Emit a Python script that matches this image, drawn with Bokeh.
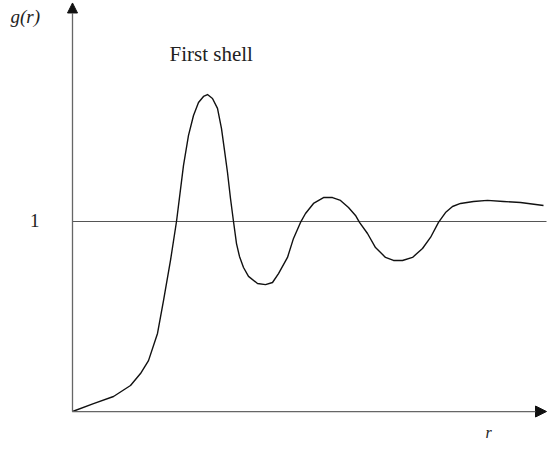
from bokeh.plotting import figure
from bokeh.models import Range1d, Arrow, NormalHead, ColumnDataSource
from bokeh.core.properties import value
from bokeh.embed import file_html
from bokeh.resources import INLINE

# g(r) curve
r_vals = [0.00, 0.21, 0.41, 0.58, 0.68, 0.76, 0.85, 0.91, 0.98, 1.04,
          1.11, 1.16, 1.21, 1.26, 1.31, 1.35, 1.40, 1.45, 1.49, 1.52,
          1.55, 1.58, 1.61, 1.64, 1.67, 1.71, 1.76, 1.85, 1.93, 2.00, 2.06,
          2.15, 2.21, 2.28, 2.33, 2.41, 2.51, 2.60, 2.68, 2.76, 2.83,
          2.87, 2.95, 3.03, 3.13, 3.21, 3.30, 3.40, 3.50, 3.58, 3.66,
          3.73, 3.80, 3.88, 4.01, 4.15, 4.31, 4.48, 4.71]
g_vals = [0.000, 0.042, 0.079, 0.137, 0.200, 0.268, 0.411, 0.584, 0.795, 1.000,
          1.295, 1.453, 1.558, 1.626, 1.658, 1.668, 1.647, 1.595, 1.489, 1.374,
          1.258, 1.121, 1.000, 0.884, 0.816, 0.758, 0.711, 0.674, 0.668, 0.679, 0.726,
          0.811, 0.911, 0.995, 1.042, 1.095, 1.126, 1.126, 1.111, 1.074, 1.032,
          0.995, 0.937, 0.863, 0.811, 0.795, 0.795, 0.811, 0.858, 0.916, 0.995,
          1.047, 1.079, 1.095, 1.105, 1.111, 1.105, 1.100, 1.084]

y_ticks = [1]
y_tick_labels = ["1"]
r_max = 4.74
g_max = 2.15

p = figure(width=547, height=442, output_backend="svg", toolbar_location=None,
           x_range=Range1d(-0.72, 4.75), y_range=Range1d(-0.163, 2.163),
           min_border=0, min_border_left=0, min_border_right=0,
           min_border_top=0, min_border_bottom=0)
p.xaxis.visible = False
p.yaxis.visible = False
p.grid.visible = False
p.outline_line_color = None
p.background_fill_color = "white"
p.border_fill_color = "white"

serif = value("Liberation Serif")

# reference line g = 1
p.line(x=[0, r_max], y=[1, 1], line_color="#555555", line_width=1.2)

# axes as arrows
p.add_layout(Arrow(end=NormalHead(size=11, fill_color="#111111", line_color="#111111"),
                   x_start=0, y_start=0, x_end=r_max, y_end=0,
                   line_color="#666666", line_width=1.3))
p.add_layout(Arrow(end=NormalHead(size=10, fill_color="#111111", line_color="#111111"),
                   x_start=0, y_start=0, x_end=0, y_end=g_max,
                   line_color="#666666", line_width=1.3))

# curve
p.line(x=r_vals, y=g_vals, line_color="#111111", line_width=1.4, line_join="round")

# tick label
tick_src = ColumnDataSource(dict(x=[-0.33] * len(y_ticks), y=y_ticks, t=y_tick_labels))
p.text(x="x", y="y", text="t", source=tick_src, text_font=serif, text_font_size="19px",
       text_align="right", text_baseline="alphabetic", y_offset=-1, text_color="#222222")

# labels
p.text(x=[-0.62], y=[2.079], text=["g(r)"], text_font=serif, text_font_style="italic",
       text_font_size="19px", text_align="left", text_baseline="middle", text_color="#222222")
p.text(x=[0.97], y=[1.884], text=["First shell"], text_font=serif,
       text_font_size="21px", text_align="left", text_baseline="middle", text_color="#222222")
p.text(x=[4.16], y=[-0.11], text=["r"], text_font=serif, text_font_style="italic",
       text_font_size="16px", text_align="center", text_baseline="middle", text_color="#222222")

open("out.html", "w").write(file_html(p, INLINE))
